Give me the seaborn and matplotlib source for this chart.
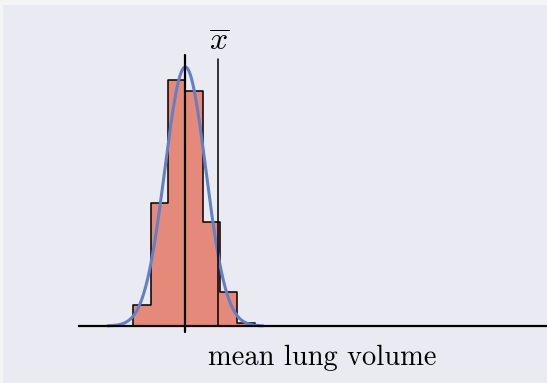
import numpy as np
import matplotlib
matplotlib.use("Agg")
import matplotlib.pyplot as plt
import seaborn as sns

# ---- data ----
bin_edges = [-3, -2, -1, 0, 1, 2, 3, 4]          # in bin-width units, centred on the true mean
bin_counts = [27, 161, 321, 307, 136, 44, 4]       # counts of sample means per bin
mu = 0.0                                           # population mean
sigma = 1.18                                       # sd of sampling distribution
xbar = 1.91                                        # observed sample mean
xlabel_text = "mean lung volume"
xbar_label = r"$\overline{x}$"

bin_centers = [(a + b) / 2 for a, b in zip(bin_edges[:-1], bin_edges[1:])]

sns.set_theme(style="dark")
plt.rcParams["mathtext.fontset"] = "cm"

fig = plt.figure(figsize=(5.47, 3.83), dpi=100, facecolor="#f5f5f5")
ax = fig.add_axes([3 / 547, 0, 544 / 547, 378 / 383])
ax.set_facecolor("#eaeaf2")

sns.histplot(x=bin_centers, weights=bin_counts, bins=bin_edges, stat="density",
             element="step", color="#e58a7a", edgecolor="black", linewidth=1.1,
             alpha=1.0, ax=ax)

xs = np.linspace(mu - 3.8 * sigma, mu + 3.8 * sigma, 400)
pdf = np.exp(-0.5 * ((xs - mu) / sigma) ** 2) / (sigma * np.sqrt(2 * np.pi))
sns.lineplot(x=xs, y=pdf, color="#6480c4", linewidth=2.2, ax=ax)

# baseline
ax.plot([-6.2, 30], [0, 0], color="black", lw=1.6, solid_capstyle="butt")
# true mean line
ax.plot([mu, mu], [-0.0078, 0.3537], color="black", lw=1.6)
# sample mean line
ax.plot([xbar, xbar], [0, 0.3484], color="black", lw=1.1)
ax.text(xbar + 0.05, 0.3706, xbar_label, ha="center", va="center",
        fontsize=23, color="black")
ax.text(7.9, -0.0509, xlabel_text, ha="center", va="baseline",
        fontsize=20.5, family="cmr10", color="black")

ax.set_xlim(-10.54, 20.91)
ax.set_ylim(-0.0744, 0.419)
ax.set_xticks([])
ax.set_yticks([])
ax.set_xlabel("")
ax.set_ylabel("")
for s in ax.spines.values():
    s.set_visible(False)

fig.savefig("out.png", dpi=100, facecolor=fig.get_facecolor())
